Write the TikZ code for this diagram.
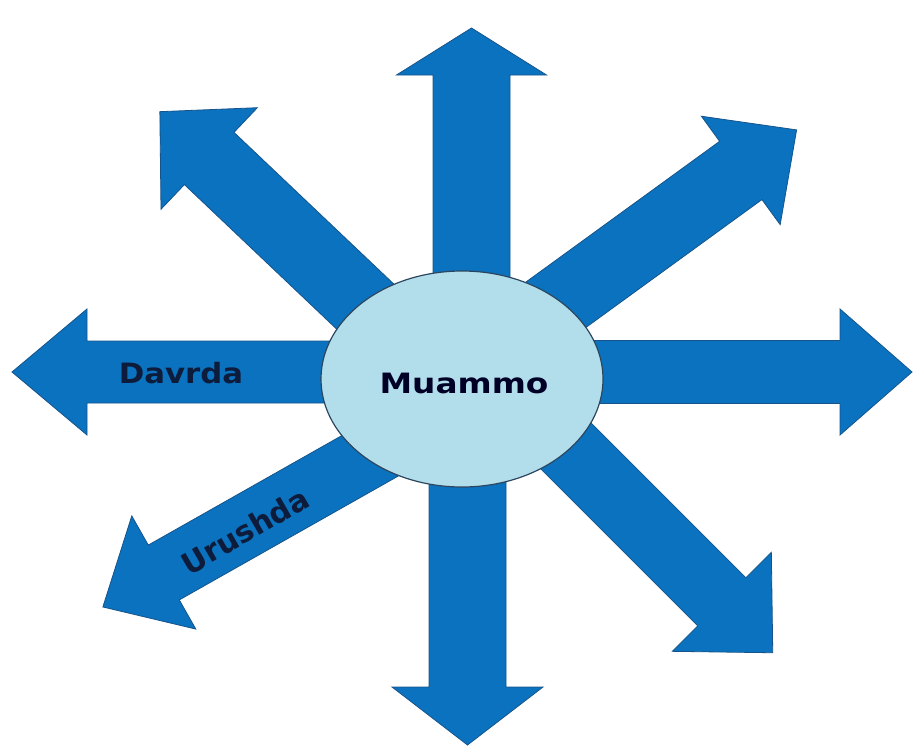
\documentclass[tikz,border=0pt]{standalone}
\usepackage{fontspec}
\setmainfont{DejaVu Sans}
\usetikzlibrary{shapes.geometric}
\definecolor{arrowblue}{RGB}{10,114,190}
\definecolor{arrowedge}{RGB}{22,84,140}
\definecolor{ellfill}{RGB}{178,222,235}
\definecolor{elledge}{RGB}{45,70,95}
\definecolor{labeltext}{RGB}{14,28,60}
\tikzset{
  arrowstyle/.style={fill=arrowblue, draw=arrowedge, line width=0.8pt, line join=miter},
  centreshape/.style={ellipse, fill=ellfill, draw=elledge, line width=1.2pt, inner sep=0pt,
    minimum width=282pt, minimum height=216pt},
  bigtext/.style={font=\fontsize{28}{30}\selectfont\bfseries, text=labeltext, inner sep=0pt},
}
\newcommand\bigarrow[6]{%
  \begin{scope}[shift={#1}, rotate=#2]
    \filldraw[arrowstyle] (0,-#4) -- ({#3-#6},-#4) -- ({#3-#6},-#5) -- (#3,0)
      -- ({#3-#6},#5) -- ({#3-#6},#4) -- (0,#4) -- cycle;
  \end{scope}}
\begin{document}
\begin{tikzpicture}[x=1pt,y=-1pt]
\useasboundingbox (0,0) rectangle (913,747);
% arrows: start, angle, length, shaft half-width, head half-width, head length
\bigarrow{(420,372)}{180}{408}{31}{63}{75}
\bigarrow{(500,372)}{0}{412}{31.5}{63}{72}
\bigarrow{(471.5,350)}{90}{322}{38.5}{75}{47}
\bigarrow{(467.5,400)}{-90}{345}{38.5}{75.5}{58}
\bigarrow{(450,387)}{136.5}{400}{36}{70}{68}
\bigarrow{(473,365)}{36}{400}{36}{67}{69}
\bigarrow{(480,360)}{-45}{414}{34}{70}{72}
\bigarrow{(451,410)}{209.5}{400}{31.5}{65}{70}
% centre
\node[centreshape] (c) at (462,379) {};
\node[bigtext, anchor=base, xscale=1.17, text=black!85!blue] (t) at (464,393) {Muammo};
\node[bigtext, anchor=base, xscale=1.1] (d) at (181,383) {Davrda};
\node[bigtext, font=\fontsize{30}{32}\selectfont\bfseries, rotate=30] (u) at (245,531) {Urushda};
\end{tikzpicture}
\end{document}
